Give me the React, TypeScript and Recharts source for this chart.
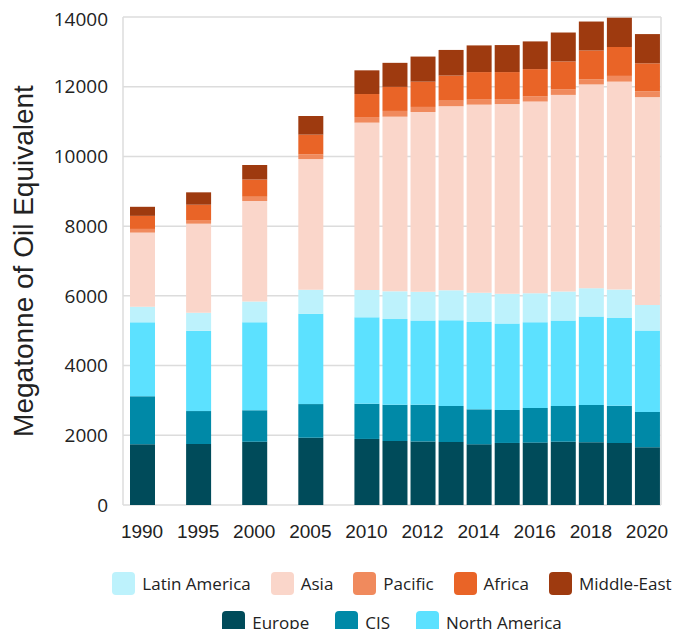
import { BarChart, Bar, XAxis, YAxis, CartesianGrid, Legend } from 'recharts';

const years = ['1990', '1995', '2000', '2005', '2010', '2011', '2012', '2013', '2014', '2015', '2016', '2017', '2018', '2019', '2020'];
const tickYears = ['1990', '1995', '2000', '2005', '2010', '2012', '2014', '2016', '2018', '2020'];
const yTicks = [0, 2000, 4000, 6000, 8000, 10000, 12000, 14000];

const europe = [1740, 1750, 1815, 1930, 1895, 1835, 1825, 1805, 1740, 1780, 1790, 1815, 1800, 1780, 1655];
const cis = [1380, 945, 900, 965, 1010, 1040, 1050, 1035, 1005, 945, 995, 1025, 1070, 1070, 1015];
const northAmerica = [2120, 2305, 2525, 2590, 2480, 2460, 2420, 2460, 2505, 2485, 2460, 2450, 2535, 2515, 2335];
const latinAmerica = [450, 515, 600, 690, 785, 795, 825, 860, 840, 850, 830, 835, 815, 815, 735];
const asia = [2125, 2555, 2880, 3750, 4800, 5010, 5155, 5280, 5395, 5440, 5500, 5640, 5845, 5965, 5960];
const pacific = [105, 105, 125, 135, 160, 165, 145, 160, 160, 145, 145, 155, 150, 165, 165];
const africa = [375, 440, 490, 565, 660, 690, 725, 720, 775, 775, 785, 805, 825, 830, 805];
const middleEast = [260, 355, 420, 535, 680, 690, 720, 735, 765, 775, 795, 830, 830, 840, 840];

const series = [
    { key: 'Europe', values: europe, color: '#004b5a' },
    { key: 'CIS', values: cis, color: '#0089a7' },
    { key: 'North America', values: northAmerica, color: '#5ce1ff' },
    { key: 'Latin America', values: latinAmerica, color: '#bdf2fc' },
    { key: 'Asia', values: asia, color: '#fad6ca' },
    { key: 'Pacific', values: pacific, color: '#f08a5d' },
    { key: 'Africa', values: africa, color: '#e96427' },
    { key: 'Middle-East', values: middleEast, color: '#9e3a0f' },
];

const legendRows = [
    ['Latin America', 'Asia', 'Pacific', 'Africa', 'Middle-East'],
    ['Europe', 'CIS', 'North America'],
];

// five-year steps get an empty slot after them, like the original
const gapAfter = ['1990', '1995', '2000', '2005'];
const rows: Array<Record<string, string | number>> = [];
years.forEach((year, i) => {
    const row: Record<string, string | number> = { slot: year };
    series.forEach((s) => {
        row[s.key] = s.values[i];
    });
    rows.push(row);
    if (gapAfter.includes(year)) rows.push({ slot: `${year}-gap` });
});

const colorOf = (name: string) => series.find((s) => s.key === name)?.color ?? '#ccc';

function LegendContent() {
    return (
        <div style={{ fontFamily: '"Open Sans", sans-serif', fontSize: 17, color: '#222' }}>
            {legendRows.map((row, r) => (
                <div
                    key={r}
                    style={{ display: 'flex', justifyContent: 'center', whiteSpace: 'nowrap', height: 23, marginBottom: 16 }}
                >
                    {row.map((name) => (
                        <div key={name} style={{ display: 'flex', alignItems: 'center', margin: r === 0 ? '0 10px' : '0 13px' }}>
                            <span
                                style={{
                                    width: 23,
                                    height: 23,
                                    borderRadius: 4,
                                    background: colorOf(name),
                                    display: 'inline-block',
                                    marginRight: 7,
                                }}
                            />
                            <span>{name}</span>
                        </div>
                    ))}
                </div>
            ))}
        </div>
    );
}

export default function App() {
    return (
        <BarChart width={677} height={621} data={rows} margin={{ top: 9, right: 24, left: 0, bottom: 94 }} barSize={25}>
            <CartesianGrid
                stroke="#dcdcdc"
                strokeWidth={1.5}
                verticalCoordinatesGenerator={({ offset }: any) => [offset.left, offset.left + offset.width]}
            />
            <XAxis
                dataKey="slot"
                interval={0}
                padding={{ left: 5, right: 0 }}
                tickFormatter={(v: string) => (tickYears.includes(v) ? v : '')}
                tickLine={false}
                axisLine={false}
                tickMargin={14}
                height={30}
                tick={{ fontFamily: '"Liberation Sans", Arial, sans-serif', fontSize: 19, fill: '#222' }}
            />
            <YAxis
                domain={[0, 14000]}
                ticks={yTicks}
                width={115}
                tickLine={false}
                axisLine={false}
                tickMargin={9}
                tick={{ fontFamily: '"Open Sans", sans-serif', fontSize: 19, fill: '#222' }}
                label={{
                    value: 'Megatonne of Oil Equivalent',
                    angle: -90,
                    position: 'insideLeft',
                    offset: 15,
                    style: { textAnchor: 'middle', fontFamily: '"Liberation Sans", Arial, sans-serif', fontSize: 28, fill: '#222' },
                }}
            />
            <Legend
                layout="horizontal"
                verticalAlign="middle"
                content={<LegendContent />}
                wrapperStyle={{ top: 564, left: 115, width: 538, height: 62, overflow: 'visible' }}
            />
            {series.map((s) => (
                <Bar key={s.key} dataKey={s.key} stackId="a" fill={s.color} isAnimationActive={false} />
            ))}
        </BarChart>
    );
}
